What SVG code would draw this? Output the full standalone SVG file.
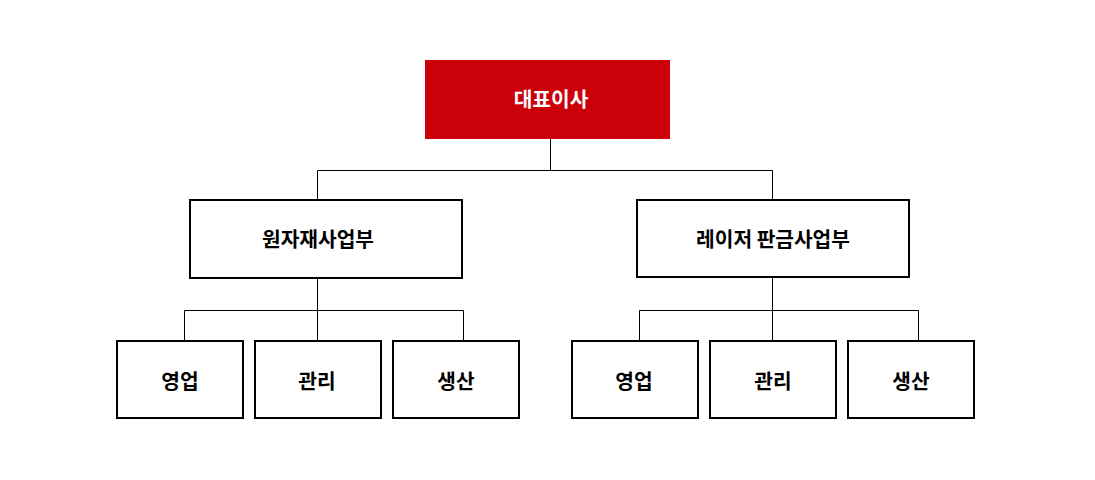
<svg xmlns="http://www.w3.org/2000/svg" width="1095" height="480" viewBox="0 0 1095 480">
<style>
.box{fill:#fff;stroke:#000;stroke-width:2}
.t{font-family:"Noto Sans CJK KR","Noto Sans",sans-serif;font-weight:bold;font-size:20.3px;text-anchor:middle;dominant-baseline:central;fill:#000}
.w{fill:#fff}
.c{fill:none;stroke:#000;stroke-width:1}
</style>
<rect width="1095" height="480" fill="#fff"/>
<g id="connectors">
<path class="c" d="M550.5 139V170.5M317.5 170.5H772.5M317.5 170.5V200M772.5 170.5V200"/>
<path class="c" d="M317.5 278V310.5M184.5 310.5H463.5M184.5 310.5V341M317.5 310.5V341M463.5 310.5V341"/>
<path class="c" d="M772.5 277V310.5M639.5 310.5H918.5M639.5 310.5V341M772.5 310.5V341M918.5 310.5V341"/>
</g>
<g id="ceo"><rect x="425" y="60" width="245" height="79" fill="#cc0009"/><text class="t w" x="551" y="98">대표이사</text></g>
<g id="div1"><rect class="box" x="190" y="200" width="272" height="78"/><text class="t" x="318" y="238">원자재사업부</text></g>
<g id="div2"><rect class="box" x="637" y="200" width="272" height="77"/><text class="t" x="773" y="238">레이저 판금사업부</text></g>
<g id="d1a"><rect class="box" x="117" y="341" width="126" height="77"/><text class="t" x="180" y="380">영업</text></g>
<g id="d1b"><rect class="box" x="255" y="341" width="126" height="77"/><text class="t" x="317" y="380">관리</text></g>
<g id="d1c"><rect class="box" x="393" y="341" width="126" height="77"/><text class="t" x="456" y="380">생산</text></g>
<g id="d2a"><rect class="box" x="572" y="341" width="126" height="77"/><text class="t" x="634" y="380">영업</text></g>
<g id="d2b"><rect class="box" x="710" y="341" width="126" height="77"/><text class="t" x="773" y="380">관리</text></g>
<g id="d2c"><rect class="box" x="848" y="341" width="126" height="77"/><text class="t" x="911" y="380">생산</text></g>
</svg>
